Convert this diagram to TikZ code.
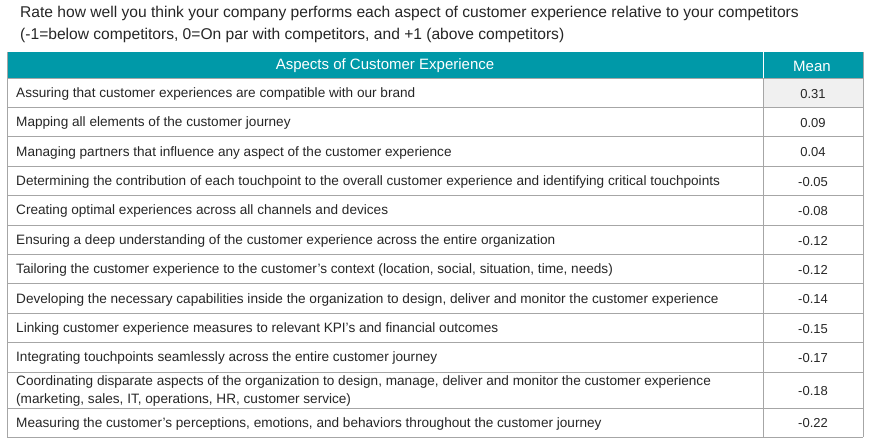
\documentclass[tikz,border=0pt]{standalone}
\usepackage{fontspec}
\setmainfont{Liberation Sans}
\begin{document}
\begin{tikzpicture}[x=1pt,y=-1pt,
  cell/.style={anchor=west,inner sep=0pt,font=\fontsize{13.6}{15}\selectfont,text=black!85},
  num/.style={anchor=center,inner sep=0pt,font=\fontsize{13}{15}\selectfont,text=black!85},
  grid/.style={draw=black!35,line width=0.8pt}]
\useasboundingbox (0,0) rectangle (870,446);
\definecolor{teal}{HTML}{0099A8}
\node[anchor=west,inner sep=0pt,font=\fontsize{15.6}{17}\selectfont,text=black!85] (t1) at (20,13) {Rate how well you think your company performs each aspect of customer experience relative to your competitors};
\node[anchor=west,inner sep=0pt,font=\fontsize{15.6}{17}\selectfont,text=black!85] (t2) at (20,35) {(-1=below competitors, 0=On par with competitors, and +1 (above competitors)};
\fill[teal] (7,52) rectangle (863,78);
\draw[white,line width=0.8pt] (763,52) -- (763,78);
\node[text=white,font=\fontsize{15}{17}\selectfont,inner sep=0pt] (h1) at (385,66) {Aspects of Customer Experience};
\node[text=white,font=\fontsize{15}{17}\selectfont,inner sep=0pt] (h2) at (812,66) {Mean};
\fill[black!6] (763,78) rectangle (863,107);
\foreach \y in {78,107.4,136.8,166.2,195.6,225,254.4,283.8,313.2,342.6,372,408,437}
  \draw[grid] (7,\y) -- (863,\y);
\draw[grid] (7,52) -- (7,437) (863,52) -- (863,437) (763,78) -- (763,437);
\foreach \yy/\txt/\m [count=\i] in {
 92.7/{Assuring that customer experiences are compatible with our brand}/0.31,
 122.1/{Mapping all elements of the customer journey}/0.09,
 151.5/{Managing partners that influence any aspect of the customer experience}/0.04,
 180.9/{Determining the contribution of each touchpoint to the overall customer experience and identifying critical touchpoints}/-0.05,
 210.3/{Creating optimal experiences across all channels and devices}/-0.08,
 239.7/{Ensuring a deep understanding of the customer experience across the entire organization}/-0.12,
 269.1/{Tailoring the customer experience to the customer's context (location, social, situation, time, needs)}/-0.12,
 298.5/{Developing the necessary capabilities inside the organization to design, deliver and monitor the customer experience}/-0.14,
 327.9/{Linking customer experience measures to relevant KPI's and financial outcomes}/-0.15,
 357.3/{Integrating touchpoints seamlessly across the entire customer journey}/-0.17,
 422.5/{Measuring the customer's perceptions, emotions, and behaviors throughout the customer journey}/-0.22}
 {\node[cell] (r\i) at (16,\yy+1) {\txt};
  \node[num] (m\i) at (813,\yy+1) {\m};}
\node[cell,align=left,font=\fontsize{13.6}{17.5}\selectfont] (rc) at (16,391) {Coordinating disparate aspects of the organization to design, manage, deliver and monitor the customer experience\\(marketing, sales, IT, operations, HR, customer service)};
\node[num] (mc) at (813,391) {-0.18};
\end{tikzpicture}
\end{document}
